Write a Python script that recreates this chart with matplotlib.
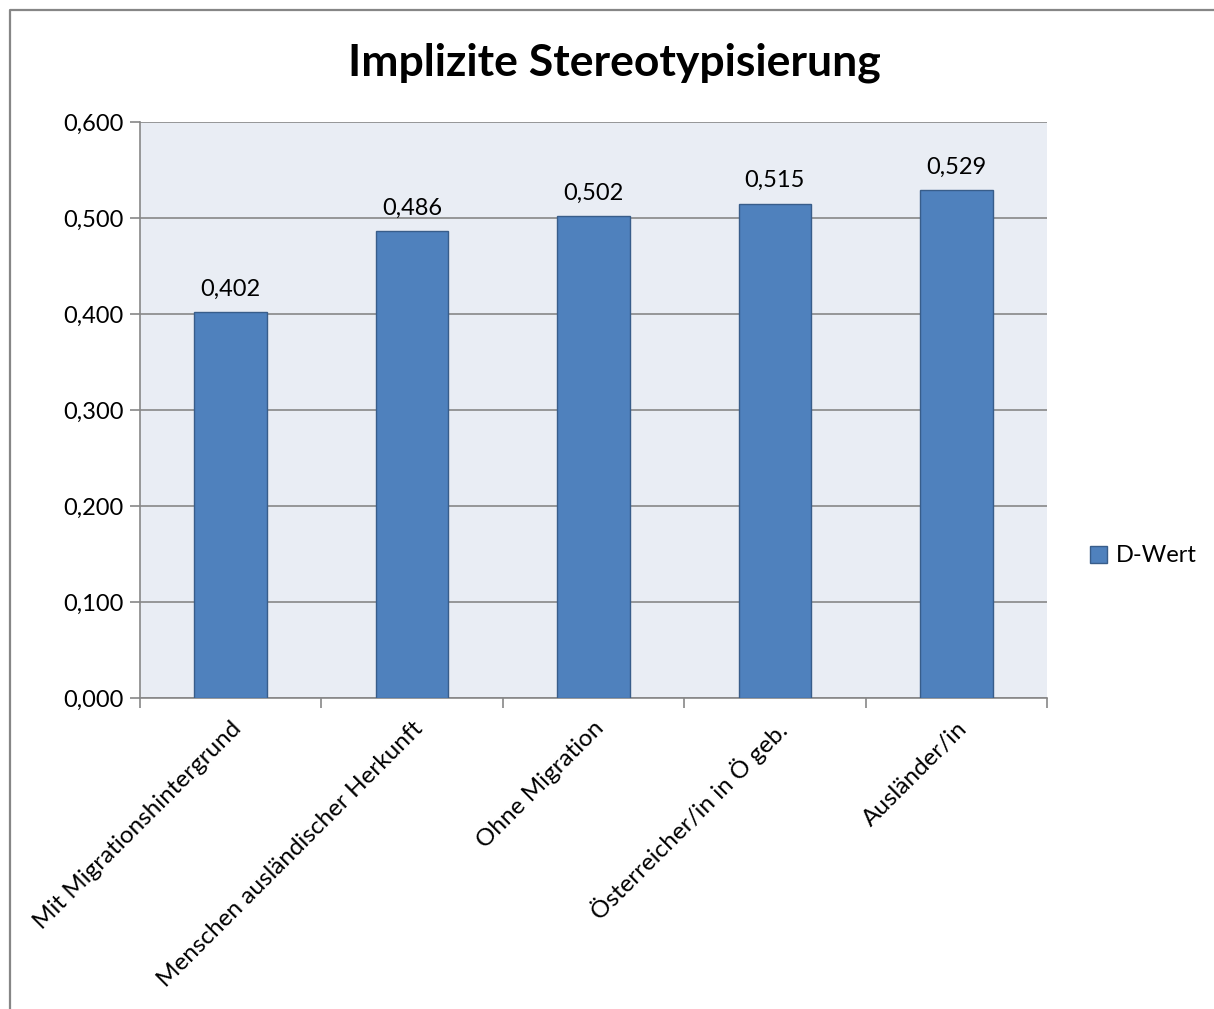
import matplotlib.pyplot as plt
from matplotlib.lines import Line2D
from matplotlib.patches import Patch
from matplotlib.ticker import FuncFormatter, MultipleLocator

categories = [
    "Mit Migrationshintergrund",
    "Menschen ausländischer Herkunft",
    "Ohne Migration",
    "Österreicher/in in Ö geb.",
    "Ausländer/in",
]
d_values = [0.402, 0.486, 0.502, 0.515, 0.529]
series_name = "D-Wert"
title = "Implizite Stereotypisierung"


def de_fmt(v, _pos=None):
    return f"{v:.3f}".replace(".", ",")


def main() -> None:
    plt.rcParams["font.family"] = ["Lato", "DejaVu Sans"]
    fig = plt.figure(figsize=(12.14, 10.09), dpi=100)
    ax = fig.add_axes([0.1153, 0.3082, 0.7471, 0.5709])
    ax.set_facecolor("#E9EDF4")

    # chart border (only left and top are visible in the crop)
    bx, by = 9.5 / 1214, 1 - 9.5 / 1009
    fig.lines.append(Line2D([bx, bx, 1.0], [0.0, by, by], transform=fig.transFigure,
                            color="#868686", linewidth=1.6))

    x = list(range(len(categories)))
    bars = ax.bar(x, d_values, width=0.40, color="#4F81BD", edgecolor="#385D8A",
                  linewidth=1.0, zorder=3)
    for b, v in zip(bars, d_values):
        ax.annotate(de_fmt(v), (b.get_x() + b.get_width() / 2, v), xytext=(0, 9),
                    textcoords="offset points", ha="center", va="bottom", fontsize=17)

    ax.set_xlim(-0.5, len(categories) - 0.5)
    ax.set_ylim(0, 0.6)
    ax.yaxis.set_major_locator(MultipleLocator(0.1))
    ax.yaxis.set_major_formatter(FuncFormatter(de_fmt))
    ax.grid(axis="y", color="#878787", linewidth=1.2, zorder=1)
    ax.set_axisbelow(True)

    ax.set_xticks([i - 0.5 for i in range(len(categories) + 1)])
    ax.set_xticklabels([])
    ax.set_xticks(x, minor=True)
    ax.set_xticklabels(categories, minor=True, rotation=45, ha="right", va="top",
                       rotation_mode="anchor", fontsize=17.5)
    ax.tick_params(axis="x", which="minor", length=0, pad=14)
    ax.tick_params(axis="x", which="major", length=7, color="#878787", width=1.2)
    ax.tick_params(axis="y", length=7, color="#878787", width=1.2, labelsize=17, pad=5)

    for side in ("top", "right"):
        ax.spines[side].set_visible(False)
    for side in ("left", "bottom"):
        ax.spines[side].set_color("#878787")
        ax.spines[side].set_linewidth(1.2)

    fig.text(0.506, 0.938, title, ha="center", va="center", fontsize=32, fontweight="bold")

    handle = Patch(facecolor="#4F81BD", edgecolor="#385D8A", label=series_name)
    fig.legend(handles=[handle], loc="center left", bbox_to_anchor=(0.88, 0.449),
               frameon=False, fontsize=17, handlelength=0.75, handleheight=0.75,
               handletextpad=0.35)

    fig.savefig("out.png", dpi=100)


if __name__ == "__main__":
    main()
